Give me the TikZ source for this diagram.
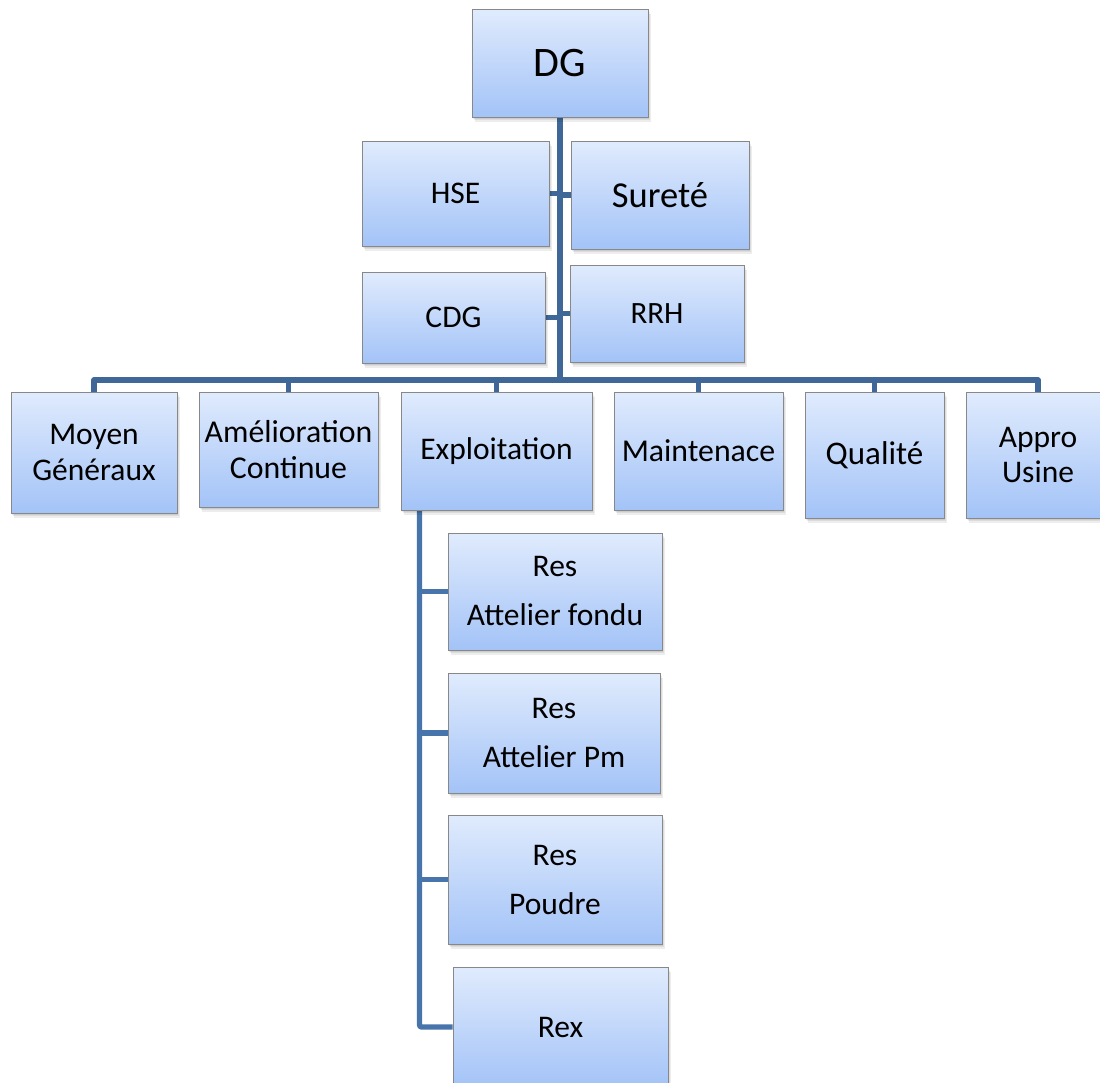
\documentclass[tikz,border=0pt]{standalone}
\usepackage{fontspec}
\setmainfont{Carlito}
\usetikzlibrary{backgrounds,shadows}

\definecolor{boxtop}{HTML}{E0EBFD}
\definecolor{boxbot}{HTML}{A3C3F7}
\definecolor{boxline}{HTML}{888888}
\definecolor{linkmain}{HTML}{3F6898}
\definecolor{linksub}{HTML}{4775AB}

\pgfdeclarelayer{backdrop}
\pgfsetlayers{backdrop,background,main}

\tikzset{
  softshadow/.style={
    general shadow={fill=black, opacity=0.07, shadow xshift=1pt, shadow yshift=-1.5pt},
    general shadow={fill=black, opacity=0.07, shadow xshift=1.8pt, shadow yshift=-3pt},
    general shadow={fill=black, opacity=0.07, shadow xshift=2.5pt, shadow yshift=-4.5pt}},
  orgbox/.style={
    softshadow,
    draw=boxline, line width=0.9pt,
    top color=boxtop, bottom color=boxbot,
    inner sep=0pt, align=center, text=black,
    font=\fontsize{31.5}{35.5}\selectfont},
  subbox/.style={orgbox, font=\fontsize{31.5}{49}\selectfont},
  link/.style={draw=linkmain, line width=5.5pt, line join=round},
  sublink/.style={draw=linksub, line width=5.3pt, line join=round, rounded corners=2pt}
}

\begin{document}
\begin{tikzpicture}[x=1pt, y=-1pt]
\useasboundingbox (0,0) rectangle (1100,1082);
\begin{pgfonlayer}{backdrop}
  \fill[white] (0,0) rectangle (1100,1082);
\end{pgfonlayer}
\clip (0,0) rectangle (1100,1082);

% top of the chart
\node[orgbox, minimum width=176pt, minimum height=108pt,
      font=\fontsize{42}{47}\selectfont] (dg) at (560,63) {DG};

% staff functions attached to the trunk
\node[orgbox, minimum width=187pt, minimum height=105pt] (hse) at (455.5,193.5) {HSE};
\node[orgbox, minimum width=178pt, minimum height=108pt,
      font=\fontsize{36.5}{41}\selectfont] (surete) at (660,195) {Sureté};
\node[orgbox, minimum width=183pt, minimum height=91pt] (cdg) at (453.5,317.5) {CDG};
\node[orgbox, minimum width=174pt, minimum height=97pt,
      font=\fontsize{31}{35}\selectfont] (rrh) at (657,313.5) {RRH};

% departments
\node[orgbox, minimum width=166pt, minimum height=121pt] (moyen) at (94,452.5) {Moyen\\Généraux};
\node[orgbox, minimum width=179pt, minimum height=115pt,
      font=\fontsize{31.8}{35.5}\selectfont] (amelio) at (288.5,449.5) {Amélioration\\Continue};
\node[orgbox, minimum width=191pt, minimum height=118pt] (exploit) at (496.5,451) {Exploitation};
\node[orgbox, minimum width=169pt, minimum height=118pt,
      font=\fontsize{31.8}{35.5}\selectfont] (maint) at (698.5,451) {Maintenace};
\node[orgbox, minimum width=139pt, minimum height=126pt,
      font=\fontsize{33}{37}\selectfont] (qualite) at (874.5,455) {Qualité};
\node[orgbox, minimum width=144pt, minimum height=126pt] (appro) at (1038,455) {Appro\\Usine};

% units under Exploitation
\node[subbox, minimum width=214pt, minimum height=117pt] (fondu) at (555,591.5) {Res\\ Attelier fondu};
\node[subbox, minimum width=212pt, minimum height=120pt] (pm) at (554,733) {Res\\Attelier Pm};
\node[subbox, minimum width=214pt, minimum height=129pt] (poudre) at (555,879.5) {Res\\Poudre};
\node[orgbox, minimum width=215pt, minimum height=120pt] (rex) at (560.5,1027) {Rex};

\coordinate (bus) at (560,380);
\coordinate (stemtop) at ([xshift=19pt]exploit.south west);

\begin{pgfonlayer}{background}
  % trunk and staff links
  \draw[link] (dg.south) -- (bus);
  \draw[link] (hse.east) -- (hse.east -| dg.south);
  \draw[link] (surete.west) -- (surete.west -| dg.south);
  \draw[link] (cdg.east) -- (cdg.east -| dg.south);
  \draw[link] (rrh.west) -- (rrh.west -| dg.south);
  % department bus
  \draw[link] (moyen.north) -- (moyen.north |- bus) -| (appro.north);
  \foreach \d in {amelio,exploit,maint,qualite}
    \draw[link] (\d.north) -- (\d.north |- bus);
  % Exploitation sub-tree
  \draw[sublink] (stemtop) |- (rex.west);
  \foreach \u in {fondu,pm,poudre}
    \draw[sublink] (\u.west) -- (\u.west -| stemtop);
\end{pgfonlayer}
\end{tikzpicture}
\end{document}
